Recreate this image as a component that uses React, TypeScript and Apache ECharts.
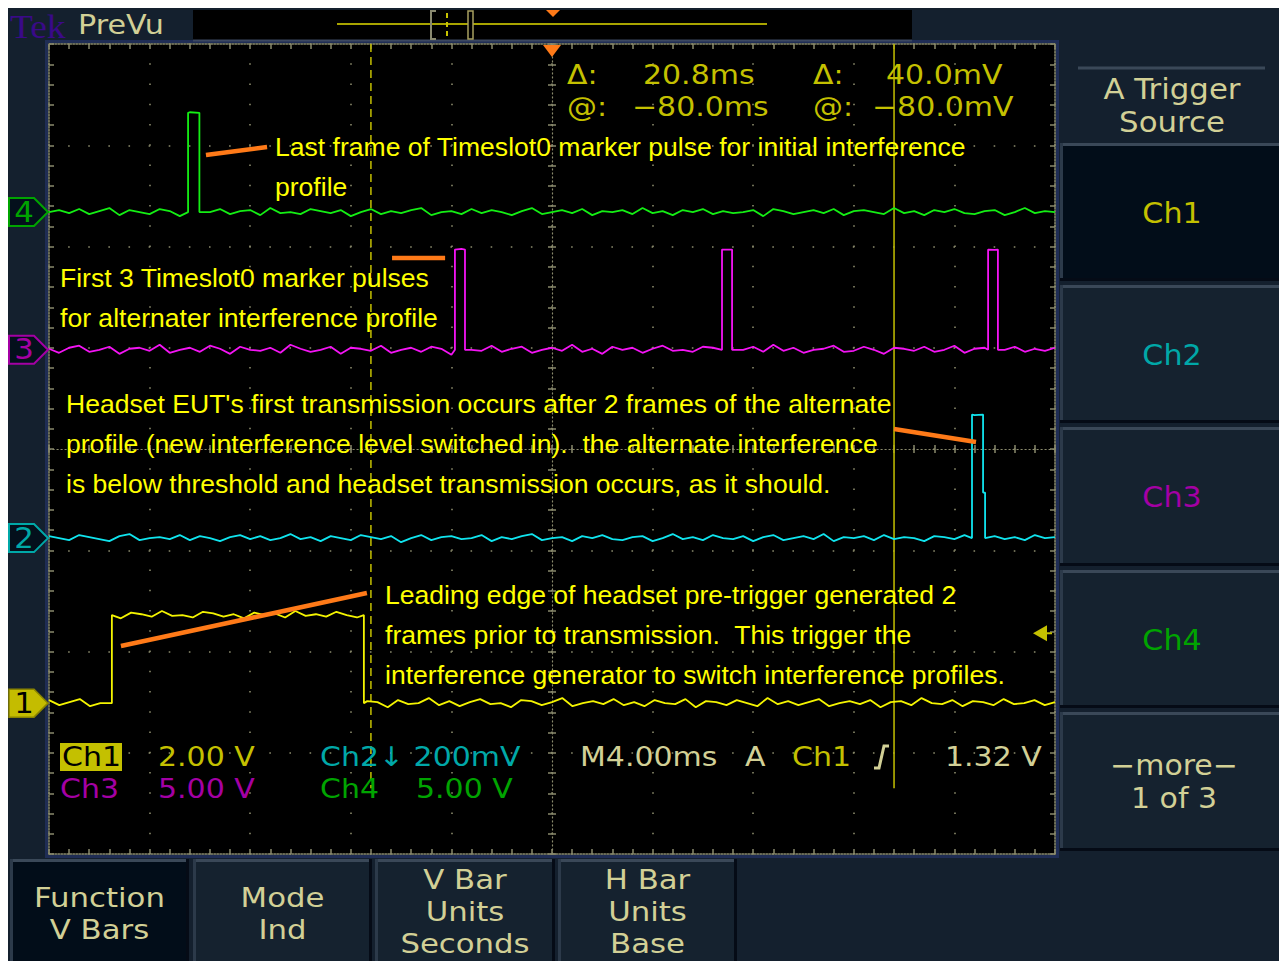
import React, { useEffect, useRef } from "react";
import * as echarts from "echarts";

// ---------------- data ----------------
const timeMinMs = -20;
const timeMaxMs = 20;
const msPerDiv = 4;
const divMin = -4;
const divMax = 4;

const channelNames = ["Ch1", "Ch2", "Ch3", "Ch4"];
const channelMarkerLabels = ["1", "2", "3", "4"];
const channelBaselinesDiv = [-2.51, -0.88, 0.98, 2.34];

// [start ms, end ms, level div]
const ch1Pulses = [[-17.5, -7.48, -1.64]];
const ch2Pulses = [[16.7, 17.14, 0.34], [17.14, 17.22, -0.43]];
const ch3Pulses = [[-3.86, -3.46, 1.97], [6.76, 7.16, 1.97], [17.34, 17.73, 1.97]];
const ch4Pulses = [[-14.47, -14.02, 3.32]];

// noise, in 1/100 div
const ch1Noise = [3,-2,1,4,-3,0,2,-4,3,1,-2,5,-1,0,-3,4,2,-2,1,-4,3,0,2,-3,5,-1,1,-2,4,0,-3,2,1,-4,3,-1,0,5,-2,2,-3,1,4,-1,0,-4,3,2,-2,1,5,-3,0,2,-1,4,-2,1,-3,3,0,-1,4,-4,2,1,-2,3,0,-3,5,-1,2,-2,1,4,-3,0,2,-1,3,-4,1,2,-2,5,0,-1,3,-3,2,1,-2,4,-1,0,3,-2,1];
const ch2Noise = [2,0,-2,3,1,-1,-3,2,4,-2,0,1,-1,3,-2,2,0,-3,1,3,-1,2,-2,0,4,-1,1,-3,2,0,-2,3,1,-1,2,-4,0,3,-2,1,2,-1,0,3,-3,1,-1,2,4,-2,0,1,-3,2,0,3,-1,-2,1,2,-3,0,4,-1,1,-2,3,0,-1,2,-3,1,3,-2,0,2,-1,4,-3,1,0,2,-2,3,-1,1,0,-3,2,1,-1,3,-2,0,2,-1,1,-2,3,0,1];
const ch3Noise = [1,-3,2,4,-2,0,3,-4,1,2,-1,5,-3,0,2,-2,4,1,-4,3,0,-1,2,-3,5,1,-2,0,3,-4,2,1,-1,4,-3,0,2,-2,3,1,-5,2,0,-1,4,-2,1,3,-3,0,2,-1,5,-2,1,-4,3,0,2,-3,1,4,-1,0,-2,3,2,-4,1,0,3,-2,5,-1,2,-3,0,1,4,-2,-1,3,0,-4,2,1,-1,3,-2,0,4,-3,1,2,-1,0,3,-2,1,-1,2];
const ch4Noise = [0,2,-1,3,-2,1,4,-3,2,0,-2,3,1,-4,2,-1,0,3,-2,1,2,-3,4,-1,0,-2,3,1,-1,2,-4,0,3,-2,1,-1,2,4,-3,0,1,-2,3,-1,2,0,-3,1,4,-2,0,2,-1,3,-3,1,0,2,-2,4,-1,1,-3,2,0,3,-2,1,-1,0,2,-4,3,1,-2,0,2,-1,3,-3,1,2,0,-2,4,-1,1,-3,2,0,3,-1,-2,1,2,-3,0,4,-1,1,0];

const cursorTimesMs = [-7.2, 13.6];
const cursorBottomDiv = -3.35;
const triggerTimeMs = 0;
const triggerLevelDiv = -1.82;

// hand-drawn orange marks, in [ms, div]
const annotationStrokes = [
  [[-13.76, 2.904], [-11.33, 2.983]],
  [[-6.36, 1.886], [-4.25, 1.886]],
  [[13.6, 0.198], [16.86, 0.069]],
  [[-17.14, -1.946], [-7.36, -1.422]],
];

const annotationLines = [
  ["Last frame of Timeslot0 marker pulse for initial interference", "profile"],
  ["First 3 Timeslot0 marker pulses", "for alternater interference profile"],
  [
    "Headset EUT's first transmission occurs after 2 frames of the alternate",
    "profile (new interference level switched in).  the alternate interference",
    "is below threshold and headset transmission occurs, as it should.",
  ],
  [
    "Leading edge of headset pre-trigger generated 2",
    "frames prior to transmission.  This trigger the",
    "interference generator to switch interference profiles.",
  ],
];

const cursorReadout = [["Δ:", "20.8ms", "Δ:", "40.0mV"], ["@:", "−80.0ms", "@:", "−80.0mV"]];
const scaleReadout = ["2.00 V", "Ch2↓ 200mV", "5.00 V", "5.00 V"];
const timebaseReadout = ["M4.00ms", "A", "Ch1", "1.32 V"];
const sideButtons = ["Ch1", "Ch2", "Ch3", "Ch4"];
const bottomButtons = [["Function", "V Bars"], ["Mode", "Ind"], ["V Bar", "Units", "Seconds"], ["H Bar", "Units", "Base"]];

// ---------------- layout / style ----------------
const OFF = 8;
const G = { left: 49 - OFF, top: 44 - OFF, width: 1006, height: 810 };
const BG = "#14202e";
const BEIGE = "#d2d096";
const OLIVE = "#c4c000";
const traceColors = ["#f4f400", "#10e4ee", "#f414f4", "#14ee14"];
const labelColors = [OLIVE, "#00a8a8", "#a400a4", "#00a400"];
const GRAT = "#8a8a6c";
const ORANGE = "#ff7a18";
const UI = "'DejaVu Sans', sans-serif";
const ANN = "'Liberation Sans', Arial, sans-serif";

const xOf = (t: number) => G.left + ((t - timeMinMs) / (timeMaxMs - timeMinMs)) * G.width;
const yOf = (v: number) => G.top + ((divMax - v) / (divMax - divMin)) * G.height;

function buildTrace(base: number, pulses: number[][], noise: number[], topScale: number) {
  const n = noise.length;
  const levelAt = (t: number) => {
    for (const p of pulses) if (t > p[0] && t < p[1]) return p[2];
    return base;
  };
  const nearEdge = (t: number) => pulses.some((p) => Math.abs(t - p[0]) < 0.06 || Math.abs(t - p[1]) < 0.06);
  const items: number[][] = [];
  noise.forEach((v, i) => {
    const t = timeMinMs + ((timeMaxMs - timeMinMs) * i) / (n - 1);
    if (nearEdge(t)) return;
    const lvl = levelAt(t);
    items.push([t, lvl + v * 0.01 * (lvl === base ? 1 : topScale)]);
  });
  pulses.forEach((p) => {
    items.push([p[0], levelAt(p[0] - 1e-6)], [p[0], p[2]], [p[1], p[2]], [p[1], levelAt(p[1] + 1e-6)]);
  });
  return items
    .map((d, k) => [d[0], d[1], k])
    .sort((a, b) => a[0] - b[0] || a[2] - b[2])
    .map((d) => [d[0], d[1]]);
}

const txt = (text: string, x: number, y: number, fill: string, size: number, align = "left", family = UI, z = 30, scaleX = 1) => ({
  type: "text",
  x: x - OFF,
  y: y - OFF,
  z,
  scaleX,
  style: { text, fill, font: `${size}px ${family}`, textAlign: align, textVerticalAlign: "middle" },
});
const rect = (x1: number, y1: number, x2: number, y2: number, fill: string, z = 1, stroke?: string, lw = 0) => ({
  type: "rect",
  z,
  shape: { x: x1 - OFF, y: y1 - OFF, width: x2 - x1, height: y2 - y1 },
  style: stroke ? { fill, stroke, lineWidth: lw } : { fill },
});
const seg = (x1: number, y1: number, x2: number, y2: number, stroke: string, lineWidth = 1, z = 5, lineDash?: number[]) => ({
  type: "line",
  z,
  shape: { x1: x1 - OFF, y1: y1 - OFF, x2: x2 - OFF, y2: y2 - OFF },
  style: lineDash ? { stroke, lineWidth, lineDash } : { stroke, lineWidth },
});
const poly = (pts: number[][], fill: string, stroke?: string, lw = 0, z = 6) => ({
  type: "polygon",
  z,
  shape: { points: pts.map((p) => [p[0] - OFF, p[1] - OFF]) },
  style: stroke ? { fill, stroke, lineWidth: lw } : { fill },
});
const button = (x1: number, y1: number, x2: number, y2: number, selected: boolean) => [
  rect(x1, y1, x2, y2, selected ? "#020d19" : "#15222f", 1),
  seg(x1, y1 + 1.5, x2, y1 + 1.5, "#3a4858", 3, 2),
  seg(x1 + 1.5, y1, x1 + 1.5, y2, "#2c3a4a", 3, 2),
  seg(x1, y2 - 1.5, x2, y2 - 1.5, "#050b16", 3, 2),
  seg(x2 - 1.5, y1, x2 - 1.5, y2, "#050b16", 3, 2),
];

function buildGraphics() {
  const els: any[] = [];
  const RO = 27; // readout font size
  const RS = 1.11; // readout stretch
  // top bar
  els.push(txt("Tek", 10, 27, "#3a0a88", 34, "left", "'Liberation Serif', serif", 30, 1.1));
  els.push(txt("PreVu", 78, 25, BEIGE, 27, "left", UI, 30, 1.12));
  els.push(rect(193, 10, 912, 40, "#000", 1));
  els.push(seg(193, 40.5, 912, 40.5, "#3c4860", 2, 2));
  els.push(seg(337, 24, 767, 24, "#a8a400", 2, 3));
  els.push({ type: "polyline", z: 4, shape: { points: [[436 - OFF, 11 - OFF], [431 - OFF, 11 - OFF], [431 - OFF, 39 - OFF], [436 - OFF, 39 - OFF]] }, style: { stroke: "#8a8a70", lineWidth: 2, fill: null } });
  els.push(seg(447, 13, 447, 38, "#c8c400", 2, 4, [5, 4]));
  els.push(rect(468, 11, 473, 39, "#000", 4, "#a8a060", 1.5));
  els.push(poly([[546, 10], [560, 10], [553, 17]], ORANGE));
  // graticule frame
  els.push(rect(46.5, 41.5, 1057.5, 856.5, "transparent", 1, "#1f2d55", 3));
  // trigger position marker
  const tx = xOf(triggerTimeMs) + OFF;
  els.push(poly([[tx - 9, 45], [tx + 9, 45], [tx, 57]], ORANGE, undefined, 0, 40));
  // trigger level arrow
  const ty = yOf(triggerLevelDiv) + OFF;
  els.push(poly([[1033, ty], [1047, ty - 8], [1047, ty + 8]], OLIVE, undefined, 0, 40));
  els.push(seg(1047, ty, 1052, ty, OLIVE, 2, 40));
  // channel markers
  channelBaselinesDiv.forEach((b, i) => {
    const c = yOf(b) + OFF;
    const pts = [[9, c - 14], [34, c - 14], [48, c], [34, c + 14], [9, c + 14]];
    if (i === 0) {
      els.push(poly(pts, "#c4bc00", "#8a8400", 1.5, 20));
      els.push(txt(channelMarkerLabels[i], 24, c, "#000", 28, "center", UI, 30, 1.1));
    } else {
      els.push(poly(pts, "#04101c", labelColors[i], 2, 20));
      els.push(txt(channelMarkerLabels[i], 24, c, labelColors[i], 28, "center", UI, 30, 1.1));
    }
  });
  // cursor readouts
  cursorReadout.forEach((row, r) => {
    const y = r === 0 ? 75 : 107;
    const xs = r === 0 ? [567, 643, 813, 886] : [567, 632, 813, 872];
    row.forEach((s, k) => els.push(txt(s, xs[k], y, OLIVE, RO, "left", UI, 40, RS)));
  });
  // annotations
  const annPos = [[275, 147], [60, 278], [66, 404], [385, 595]];
  annotationLines.forEach((lines, a) => {
    lines.forEach((s, k) => els.push(txt(s, annPos[a][0], annPos[a][1] + 40 * k, "#ffff00", 26, "left", ANN, 40, 1.022)));
  });
  // bottom readouts
  els.push(rect(60, 743, 122, 771, OLIVE, 30));
  els.push(txt(channelNames[0], 62, 757, "#000", RO, "left", UI, 41, RS));
  els.push(txt(scaleReadout[0], 158, 757, labelColors[0], RO, "left", UI, 30, RS));
  els.push(txt(scaleReadout[1], 320, 757, labelColors[1], RO, "left", UI, 30, RS));
  els.push(txt(channelNames[2], 60, 789, labelColors[2], RO, "left", UI, 30, RS));
  els.push(txt(scaleReadout[2], 158, 789, labelColors[2], RO, "left", UI, 30, RS));
  els.push(txt(channelNames[3], 320, 789, labelColors[3], RO, "left", UI, 30, RS));
  els.push(txt(scaleReadout[3], 416, 789, labelColors[3], RO, "left", UI, 30, RS));
  els.push(txt(timebaseReadout[0], 580, 757, BEIGE, RO, "left", UI, 30, RS));
  els.push(txt(timebaseReadout[1], 745, 757, BEIGE, RO, "left", UI, 30, RS));
  els.push(txt(timebaseReadout[2], 792, 757, OLIVE, RO, "left", UI, 30, RS));
  els.push({ type: "polyline", z: 40, shape: { points: [[874 - OFF, 768 - OFF], [879 - OFF, 768 - OFF], [884 - OFF, 746 - OFF], [889 - OFF, 746 - OFF]] }, style: { stroke: BEIGE, lineWidth: 3, fill: null } });
  els.push(txt(timebaseReadout[3], 945, 757, BEIGE, RO, "left", UI, 30, RS));
  // side menu
  els.push(seg(1078, 68, 1265, 68, "#3a4858", 3, 2));
  els.push(txt("A Trigger", 1172, 89, BEIGE, 28, "center", UI, 30, 1.1));
  els.push(txt("Source", 1172, 122, BEIGE, 28, "center", UI, 30, 1.1));
  const sideY = [[143, 281], [285, 423], [427, 566], [570, 708], [712, 851]];
  sideY.forEach((yy, i) => els.push(...button(1060, yy[0], 1285, yy[1], i === 0)));
  sideButtons.forEach((s, i) => els.push(txt(s, 1172, (sideY[i][0] + sideY[i][1]) / 2 + 1, labelColors[i], 29, "center", UI, 30, 1.04)));
  els.push(txt("−more−", 1174, 765, BEIGE, 28, "center", UI, 30, 1.07));
  els.push(txt("1 of 3", 1174, 798, BEIGE, 28, "center", UI, 30, 1.07));
  // bottom menu
  const botX = [[10, 189], [193, 372], [375, 555], [558, 737]];
  botX.forEach((xx, i) => els.push(...button(xx[0], 859, xx[1], 975, i === 0)));
  bottomButtons.forEach((lines, i) => {
    const cx = (botX[i][0] + botX[i][1]) / 2;
    const y0 = lines.length === 2 ? 898 : 880;
    lines.forEach((s, k) => els.push(txt(s, cx, y0 + 32 * k, BEIGE, 27, "center", UI, 30, 1.14)));
  });
  return els;
}

function App() {
  const ref = useRef<HTMLDivElement>(null);
  useEffect(() => {
    if (!ref.current) return;
    const chart = echarts.init(ref.current, undefined, { renderer: "svg" });
    const baseX = { type: "value", min: timeMinMs, max: timeMaxMs, interval: msPerDiv, axisLabel: { show: false } };
    const baseY = { type: "value", min: divMin, max: divMax, interval: 1, axisLabel: { show: false } };
    const borderLine = { show: true, onZero: false, lineStyle: { color: GRAT, width: 1.5, type: [1.5, 1.5] } };
    const tickIn = (len: number) => ({ show: true, inside: true, length: len, lineStyle: { color: GRAT, width: 1.5 } });
    const minorIn = (len: number) => ({ show: true, splitNumber: 5, length: len, lineStyle: { color: GRAT, width: 1.5 } });
    const grids = [G, G, G].map((g) => ({ ...g, show: false, containLabel: false }));

    const traces = [
      buildTrace(channelBaselinesDiv[0], ch1Pulses, ch1Noise, 0.8),
      buildTrace(channelBaselinesDiv[1], ch2Pulses, ch2Noise, 0.3),
      buildTrace(channelBaselinesDiv[2], ch3Pulses, ch3Noise, 0.3),
      buildTrace(channelBaselinesDiv[3], ch4Pulses, ch4Noise, 0.3),
    ];

    const series: any[] = [];
    [3, 2, 1, 0].forEach((i) =>
      series.push({
        name: channelNames[i],
        type: "line",
        xAxisIndex: 0,
        yAxisIndex: 0,
        data: traces[i],
        showSymbol: false,
        symbol: "none",
        lineStyle: { color: traceColors[i], width: 1.8 },
        z: 5,
      })
    );
    cursorTimesMs.forEach((t, k) =>
      series.push({
        type: "line",
        xAxisIndex: 0,
        yAxisIndex: 0,
        data: [[t, divMax], [t, cursorBottomDiv]],
        symbol: "none",
        lineStyle: { color: "#b8b400", width: 1.6, type: k === 0 ? [8, 5] : "solid" },
        z: 4,
      })
    );
    annotationStrokes.forEach((s) =>
      series.push({
        type: "line",
        xAxisIndex: 0,
        yAxisIndex: 0,
        data: s,
        symbol: "none",
        lineStyle: { color: ORANGE, width: 4.5, cap: "butt" },
        z: 6,
      })
    );

    chart.setOption({
      animation: false,
      backgroundColor: BG,
      grid: grids,
      xAxis: [
        {
          ...baseX,
          gridIndex: 0,
          position: "bottom",
          axisLine: borderLine,
          axisTick: tickIn(5),
          minorTick: minorIn(5),
          splitLine: { show: true, lineStyle: { color: GRAT, width: 1.6, type: [1.6, 18.65], dashOffset: 0.8 } },
        },
        { ...baseX, gridIndex: 0, position: "top", axisLine: borderLine, axisTick: tickIn(5), minorTick: minorIn(5), splitLine: { show: false } },
        {
          ...baseX,
          gridIndex: 1,
          axisLine: { show: true, onZero: true, lineStyle: { color: GRAT, width: 1.2, type: [1.2, 2.8] } },
          axisTick: tickIn(4),
          minorTick: minorIn(4),
          splitLine: { show: false },
        },
        {
          ...baseX,
          gridIndex: 2,
          axisLine: { show: false, onZero: true },
          axisTick: { show: true, inside: false, length: 4, lineStyle: { color: GRAT, width: 1.5 } },
          minorTick: minorIn(4),
          splitLine: { show: false },
        },
      ],
      yAxis: [
        {
          ...baseY,
          gridIndex: 0,
          position: "left",
          axisLine: borderLine,
          axisTick: tickIn(5),
          minorTick: minorIn(5),
          splitLine: { show: true, lineStyle: { color: GRAT, width: 1.6, type: [1.6, 18.52], dashOffset: 0.8 } },
        },
        { ...baseY, gridIndex: 0, position: "right", axisLine: borderLine, axisTick: tickIn(5), minorTick: minorIn(5), splitLine: { show: false } },
        {
          ...baseY,
          gridIndex: 1,
          axisLine: { show: true, onZero: true, lineStyle: { color: GRAT, width: 1.2, type: [1.2, 2.8] } },
          axisTick: tickIn(4),
          minorTick: minorIn(4),
          splitLine: { show: false },
        },
        {
          ...baseY,
          gridIndex: 2,
          axisLine: { show: false, onZero: true },
          axisTick: { show: true, inside: false, length: 4, lineStyle: { color: GRAT, width: 1.5 } },
          minorTick: minorIn(4),
          splitLine: { show: false },
        },
      ],
      series,
      graphic: { elements: [rect(49, 44, 1055, 854, "#000", -5), ...buildGraphics()] },
    });
    return () => chart.dispose();
  }, []);
  return <div ref={ref} style={{ width: 1279, height: 953 }} />;
}

export default App;
